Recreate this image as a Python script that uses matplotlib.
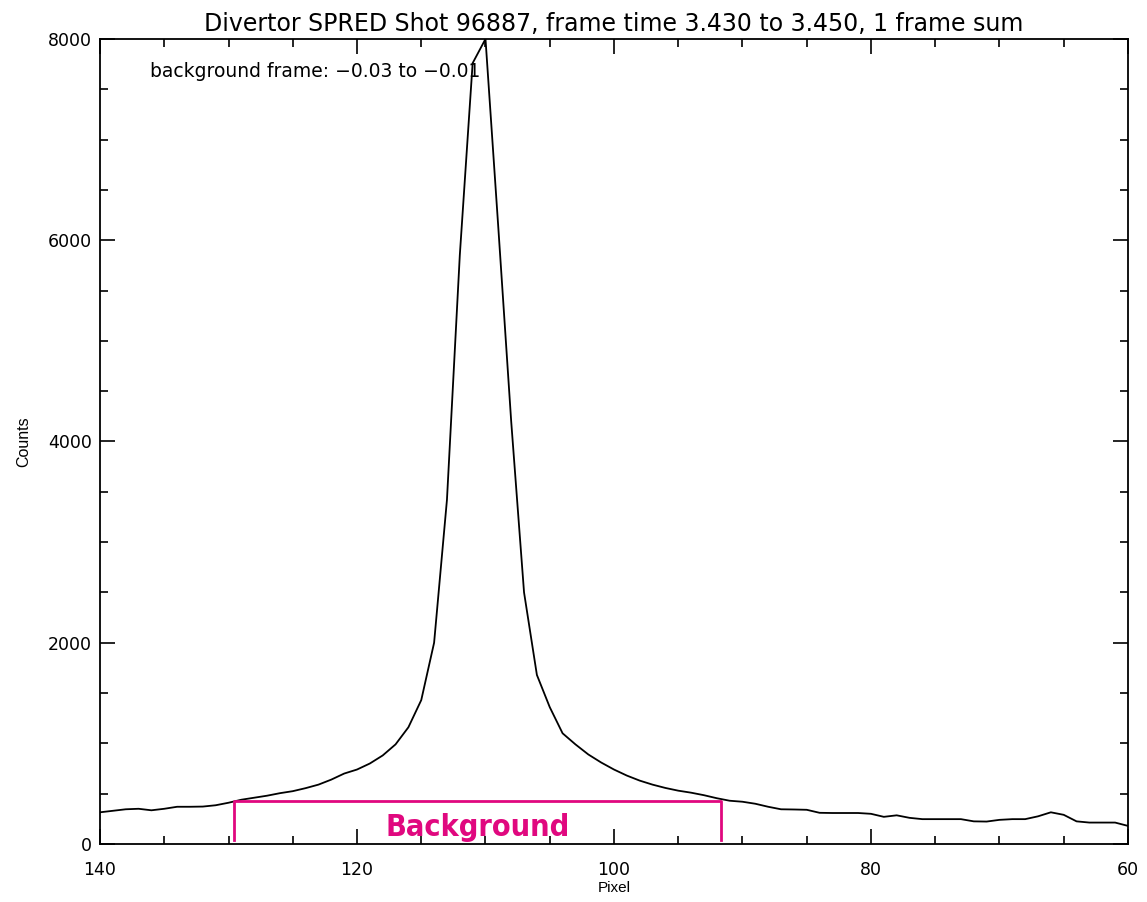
import numpy as np
import matplotlib
matplotlib.use("Agg")
import matplotlib.pyplot as plt
from matplotlib.ticker import MultipleLocator

# Spectrum: one value per detector pixel, 140 down to 60
pixel = np.arange(140, 59, -1)
counts = [315, 330, 345, 350, 335, 350, 370, 370, 372, 385,      # 140-131
          410, 440, 460, 480, 505, 525, 555, 590, 640, 700,      # 130-121
          740, 800, 880, 990, 1160, 1430, 2000, 3420, 5850, 7760,  # 120-111
          8000, 6120, 4200, 2500, 1680, 1360, 1100, 990, 890, 810,  # 110-101
          740, 680, 630, 590, 557, 530, 510, 485, 455, 430,      # 100-91
          420, 400, 370, 345, 343, 340, 310, 308, 308, 308,      # 90-81
          300, 270, 285, 260, 247, 247, 247, 247, 225, 223,      # 80-71
          240, 247, 247, 275, 315, 290, 225, 213, 213, 213,      # 70-61
          180]                                                   # 60

# background window marked in magenta
bg_pixels = [129.6, 91.7]
bg_level = 425
bg_floor = 40
bg_label_x = 110.6

title = "Divertor SPRED Shot 96887, frame time 3.430 to 3.450, 1 frame sum"
note = "background frame: \u22120.03 to \u22120.01"

fig = plt.figure(figsize=(11.47, 9.02), dpi=100, facecolor="white")
ax = fig.add_axes([0.0872, 0.0643, 0.8962, 0.8925])

ax.plot(pixel, counts, color="black", lw=1.3)

# open-bottom box around the background region
ax.plot([bg_pixels[0], bg_pixels[0], bg_pixels[1], bg_pixels[1]],
        [bg_floor, bg_level, bg_level, bg_floor],
        color="#E0087F", lw=2.0)
ax.text(bg_label_x, 80, "Background",
        family=["DejaVu Sans"], fontstretch="condensed", fontweight="bold",
        fontsize=22, color="#E0087F", ha="center", va="baseline")

ax.set_xlim(140, 60)
ax.set_ylim(0, 8000)
ax.xaxis.set_major_locator(MultipleLocator(20))
ax.xaxis.set_minor_locator(MultipleLocator(5))
ax.yaxis.set_major_locator(MultipleLocator(2000))
ax.yaxis.set_minor_locator(MultipleLocator(500))
ax.tick_params(which="both", direction="in", top=True, right=True,
               width=1.2, labelsize=12.5)
ax.tick_params(which="major", length=11)
ax.tick_params(which="minor", length=6)
ax.tick_params(axis="x", which="major", pad=12)
ax.tick_params(axis="y", which="major", pad=6)
for s in ax.spines.values():
    s.set_linewidth(1.3)

ax.set_xlabel("Pixel", fontsize=11, family="Liberation Sans", labelpad=2)
ax.set_ylabel("Counts", fontsize=11.5, family="Liberation Sans", labelpad=12)
ax.set_title(title, fontsize=17, pad=6)
ax.text(0.0486, 0.959, note, transform=ax.transAxes, fontsize=13.5,
        ha="left", va="center")

fig.savefig("out.png", dpi=100, facecolor="white")
